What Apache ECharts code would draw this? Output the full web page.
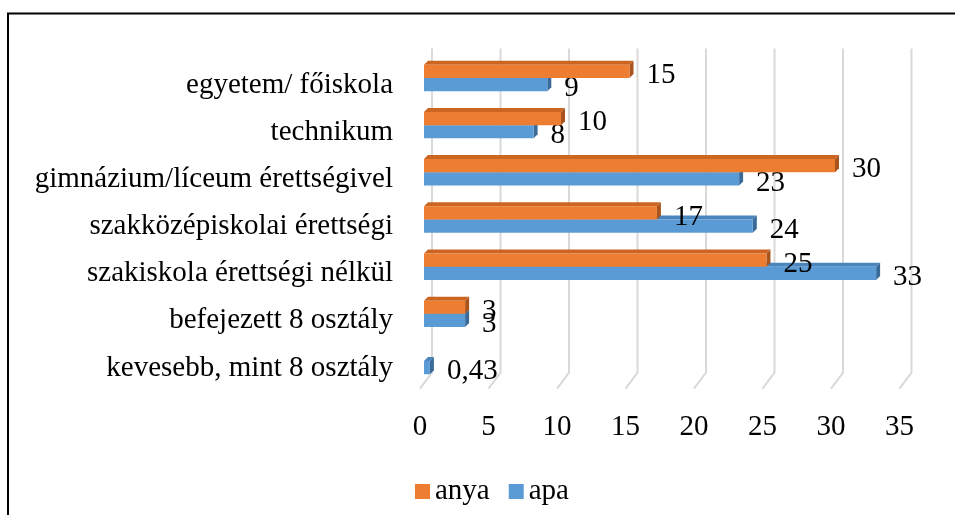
<!DOCTYPE html>
<html>
<head>
<meta charset="utf-8">
<script src="https://cdn.jsdelivr.net/npm/echarts@6/dist/echarts.min.js"></script>
<style>
  html, body { margin: 0; padding: 0; background: #fff; }
  #chart { width: 955px; height: 515px; }
</style>
</head>
<body>
<div id="chart"></div>
<script>
    // adatok a képről
    var categories = [
        'egyetem/ főiskola',
        'technikum',
        'gimnázium/líceum érettségivel',
        'szakközépiskolai érettségi',
        'szakiskola érettségi nélkül',
        'befejezett 8 osztály',
        'kevesebb, mint 8 osztály'
    ];
    var anya = [15, 10, 30, 17, 25, 3, null];
    var apa = [9, 8, 23, 24, 33, 3, 0.43];
    var ticks = [0, 5, 10, 15, 20, 25, 30, 35];

    var font = "'Liberation Serif', 'Times New Roman', serif";
    var fontSize = 29;
    var depth = 4;

    function fmt(v) {
        return String(v).replace('.', ',');
    }

    // 3D-s oszlop: elülső lap, teteje, jobb oldala + felirat
    function bar3d(colors, upper) {
        return function (params, api) {
            var v = api.value(0);
            if (v == null || isNaN(v)) {
                return;
            }
            var i = api.value(1);
            var p0 = api.coord([0, i]);
            var p1 = api.coord([v, i]);
            var h = api.size([0, 1])[1] * 0.28;
            var y0 = upper ? p0[1] - h : p0[1];
            var y1 = y0 + h;
            var x0 = p0[0], x1 = p1[0], d = depth;
            return {
                type: 'group',
                children: [
                    { type: 'polygon', shape: { points: [[x0, y0], [x1, y0], [x1 + d, y0 - d], [x0 + d, y0 - d]] }, style: { fill: colors.top } },
                    { type: 'polygon', shape: { points: [[x1, y0], [x1 + d, y0 - d], [x1 + d, y1 - d], [x1, y1]] }, style: { fill: colors.side } },
                    { type: 'rect', shape: { x: x0, y: y0, width: x1 - x0, height: h }, style: { fill: colors.front } },
                    {
                        type: 'text',
                        style: {
                            text: fmt(v), x: x1 + d + 13, y: (y0 + y1) / 2 + 4,
                            verticalAlign: 'middle', align: 'left',
                            fontSize: fontSize, fontFamily: font, fill: '#000'
                        }
                    }
                ]
            };
        };
    }

    // ferde rácsvonalak (hátsó fal + padló)
    function gridLine(params, api) {
        var cs = params.coordSys;
        var x = api.coord([api.value(0), 0])[0];
        var top = cs.y - 6;
        var bottom = cs.y + cs.height;
        return {
            type: 'polyline',
            shape: { points: [[x + 8, top], [x + 8, bottom - 12], [x - 4, bottom + 4]] },
            style: { stroke: '#d9d9d9', lineWidth: 2, fill: null }
        };
    }

    var chart = echarts.init(document.getElementById('chart'));
    chart.setOption({
        animation: false,
        textStyle: { fontFamily: font },
        graphic: [{
            type: 'polyline',
            shape: { points: [[8, 515], [8, 13.5], [955, 13.5]] },
            style: { stroke: '#000', lineWidth: 2, fill: null }
        }],
        grid: {
            left: 424,
            right: 51.5,
            top: 54.4,
            bottom: 130.4
        },
        legend: {
            data: ['anya', 'apa'],
            left: 415,
            top: 477,
            padding: 0,
            icon: 'rect',
            itemWidth: 15,
            itemHeight: 15,
            itemGap: 19,
            textStyle: { fontSize: fontSize, fontFamily: font, color: '#000' }
        },
        xAxis: {
            type: 'value',
            min: 0,
            max: 35,
            interval: 5,
            axisLine: { show: false },
            axisTick: { show: false },
            splitLine: { show: false },
            axisLabel: {
                margin: 28,
                fontSize: fontSize,
                fontFamily: font,
                color: '#000',
                padding: [0, 8, 0, 0]
            }
        },
        yAxis: {
            type: 'category',
            data: categories,
            inverse: true,
            axisLine: { show: false },
            axisTick: { show: false },
            axisLabel: {
                margin: 31,
                color: '#000',
                formatter: function (v) { return '{c|' + v + '}'; },
                rich: {
                    c: {
                        fontSize: fontSize,
                        fontFamily: font,
                        color: '#000',
                        padding: [14, 0, 0, 0]
                    }
                }
            }
        },
        series: [
            {
                name: 'racs',
                type: 'custom',
                z: 1,
                silent: true,
                renderItem: gridLine,
                encode: { x: 0, y: 1 },
                data: ticks.map(function (t) { return [t, 0]; })
            },
            {
                name: 'apa',
                type: 'custom',
                z: 2,
                itemStyle: { color: '#5B9BD5' },
                renderItem: bar3d({ front: '#5B9BD5', top: '#4A85BD', side: '#3A6A98' }, false),
                encode: { x: 0, y: 1 },
                data: apa.map(function (v, i) { return [v, i]; })
            },
            {
                name: 'anya',
                type: 'custom',
                z: 3,
                itemStyle: { color: '#ED7D31' },
                renderItem: bar3d({ front: '#ED7D31', top: '#CC6522', side: '#A9541C' }, true),
                encode: { x: 0, y: 1 },
                data: anya.map(function (v, i) { return [v, i]; })
            }
        ]
    });
</script>
</body>
</html>
